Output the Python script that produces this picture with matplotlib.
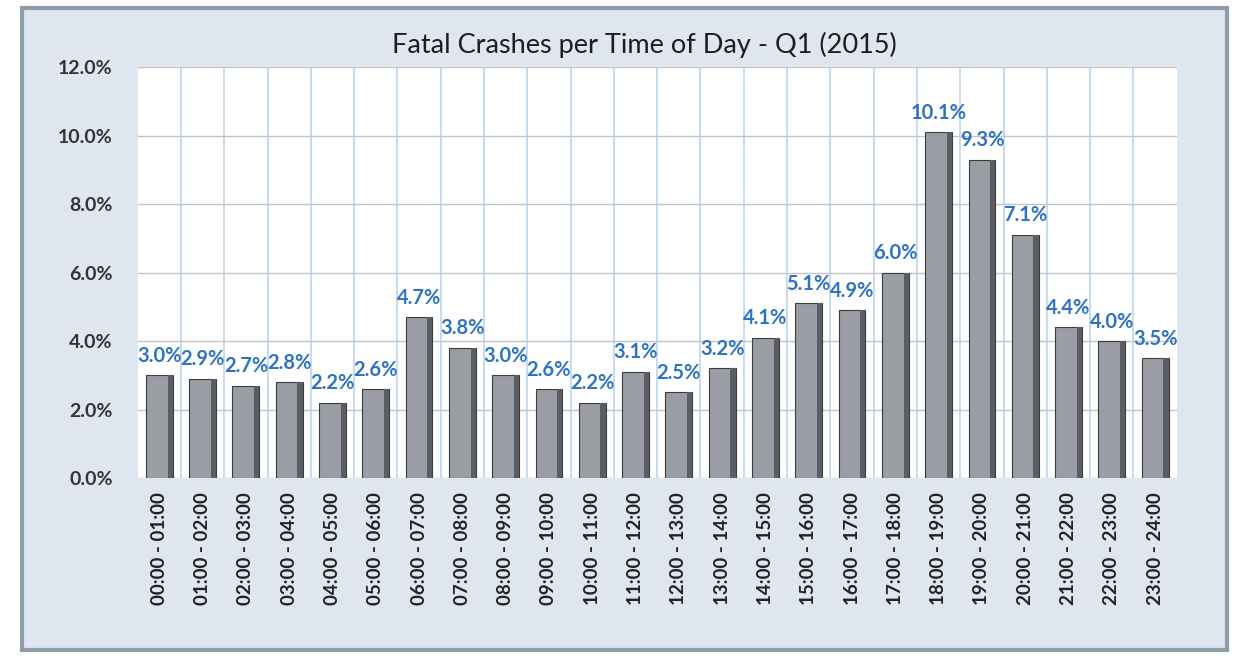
import matplotlib.pyplot as plt
from matplotlib.patches import FancyBboxPatch
from matplotlib.ticker import FuncFormatter, MultipleLocator

# share of fatal crashes per hour of the day, Q1 2015 (percent)
hours = ['00:00 - 01:00', '01:00 - 02:00', '02:00 - 03:00', '03:00 - 04:00',
         '04:00 - 05:00', '05:00 - 06:00', '06:00 - 07:00', '07:00 - 08:00',
         '08:00 - 09:00', '09:00 - 10:00', '10:00 - 11:00', '11:00 - 12:00',
         '12:00 - 13:00', '13:00 - 14:00', '14:00 - 15:00', '15:00 - 16:00',
         '16:00 - 17:00', '17:00 - 18:00', '18:00 - 19:00', '19:00 - 20:00',
         '20:00 - 21:00', '21:00 - 22:00', '22:00 - 23:00', '23:00 - 24:00']
share = [3.0, 2.9, 2.7, 2.8, 2.2, 2.6, 4.7, 3.8, 3.0, 2.6, 2.2, 3.1,
         2.5, 3.2, 4.1, 5.1, 4.9, 6.0, 10.1, 9.3, 7.1, 4.4, 4.0, 3.5]

plt.rcParams['font.family'] = ['Lato', 'DejaVu Sans']

fig = plt.figure(figsize=(12.4, 6.64), dpi=100)
fig.patch.set_facecolor('white')

# chart area frame
frame = FancyBboxPatch((22 / 1240, 1 - 650 / 664), 1205 / 1240, 642 / 664,
                       boxstyle='square,pad=0', transform=fig.transFigure,
                       facecolor='#dfe6ef', edgecolor='#8c9ca8', linewidth=3,
                       zorder=-5)
fig.patches.append(frame)

ax = fig.add_axes([0.111, 0.280, 0.838, 0.619])
ax.set_zorder(2)
ax.set_facecolor('white')

x = list(range(len(hours)))
width = 0.62
ax.bar(x, share, width=width, color='#9a9ea4', edgecolor='#3c3c3c',
       linewidth=0.8, zorder=3)
# darker strip on the right side of each bar for the rounded look
ax.bar([i + width / 2 - 0.06 for i in x], share, width=0.12,
       color='#5a5e64', linewidth=0, zorder=4)

for i, v in zip(x, share):
    ax.annotate(f'{v:.1f}%', (i, v), xytext=(0, 14), textcoords='offset points',
                ha='center', va='center', color='#2e72c4', fontsize=14.5,
                fontweight='bold', zorder=5)

ax.set_xlim(-0.5, len(hours) - 0.5)
ax.set_ylim(0, 12)
ax.yaxis.set_major_locator(MultipleLocator(2))
ax.yaxis.set_major_formatter(FuncFormatter(lambda v, _: f'{v:.1f}%'))

# gridlines: gray horizontal, light blue vertical between categories
ax.grid(axis='y', color='#c4c4c4', linewidth=1, zorder=1)
for b in [i - 0.5 for i in range(1, len(hours))]:
    ax.axvline(b, color='#bcd6ee', linewidth=1.2, zorder=1)

ax.set_xticks(x)
ax.set_xticklabels(hours, rotation=90, fontsize=13.5, fontweight='bold',
                   color='#222222')
ax.tick_params(axis='x', length=0, pad=10)
ax.tick_params(axis='y', length=0, pad=18, labelsize=14, labelcolor='#333333')
for lab in ax.get_yticklabels():
    lab.set_fontweight('bold')

for s in ax.spines.values():
    s.set_visible(False)

fig.text(0.52, 0.932, 'Fatal Crashes per Time of Day - Q1 (2015)',
         ha='center', va='center', fontsize=19.5, color='#1e1e1e')

fig.savefig('out.png', dpi=100)
